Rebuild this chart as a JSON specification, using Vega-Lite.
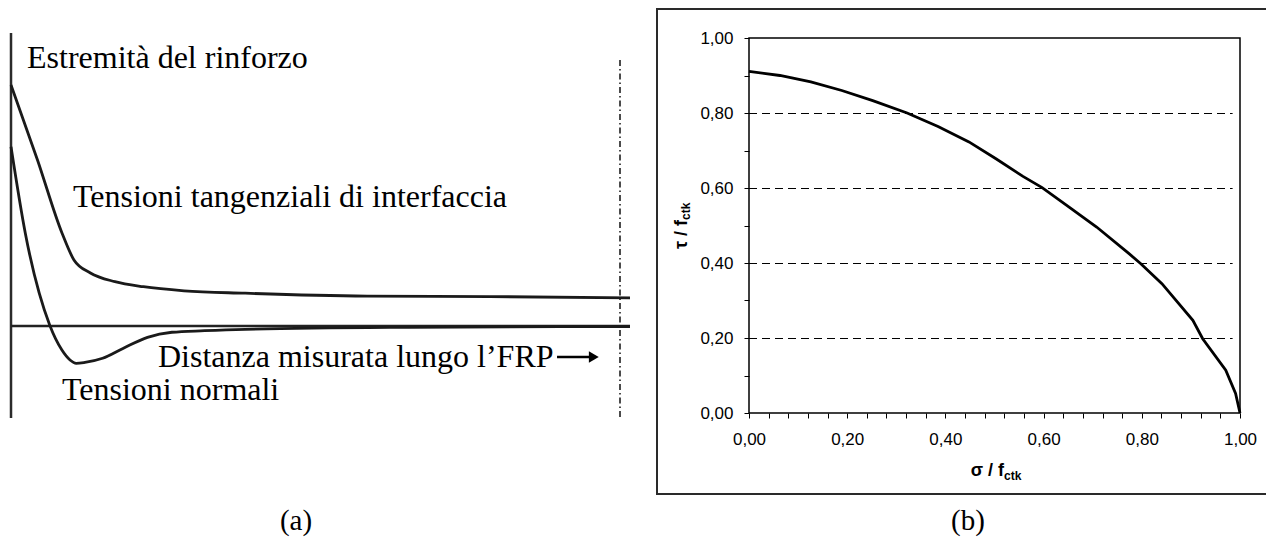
{
  "$schema": "https://vega.github.io/schema/vega-lite/v6.json",
  "width": 1266,
  "height": 538,
  "padding": 0,
  "autosize": {"type": "none"},
  "background": "white",
  "config": {
    "view": {"stroke": null},
    "font": "Liberation Sans",
    "locale": {"number": {"decimal": ",", "thousands": ".", "grouping": [3], "currency": ["", " €"]}}
  },
  "data": {"values": [{}]},
  "datasets": {
    "schematic": [
      {"series": "tangenziali", "d": 0.0, "s": 1.0},
      {"series": "tangenziali", "d": 0.0435, "s": 0.689},
      {"series": "tangenziali", "d": 0.0837, "s": 0.386},
      {"series": "tangenziali", "d": 0.1034, "s": 0.274},
      {"series": "tangenziali", "d": 0.1304, "s": 0.22},
      {"series": "tangenziali", "d": 0.1706, "s": 0.184},
      {"series": "tangenziali", "d": 0.2174, "s": 0.163},
      {"series": "tangenziali", "d": 0.2842, "s": 0.146},
      {"series": "tangenziali", "d": 0.3846, "s": 0.136},
      {"series": "tangenziali", "d": 0.5852, "s": 0.124},
      {"series": "tangenziali", "d": 0.7859, "s": 0.122},
      {"series": "tangenziali", "d": 1.0164, "s": 0.117},
      {"series": "normali", "d": 0.0, "s": 0.744},
      {"series": "normali", "d": 0.0235, "s": 0.385},
      {"series": "normali", "d": 0.0635, "s": 0.004},
      {"series": "normali", "d": 0.0836, "s": -0.1},
      {"series": "normali", "d": 0.0969, "s": -0.141},
      {"series": "normali", "d": 0.1071, "s": -0.155},
      {"series": "normali", "d": 0.1215, "s": -0.151},
      {"series": "normali", "d": 0.1504, "s": -0.134},
      {"series": "normali", "d": 0.1839, "s": -0.093},
      {"series": "normali", "d": 0.2241, "s": -0.047},
      {"series": "normali", "d": 0.2642, "s": -0.026},
      {"series": "normali", "d": 0.3177, "s": -0.0195},
      {"series": "normali", "d": 0.3846, "s": -0.0137},
      {"series": "normali", "d": 0.6522, "s": -0.0054},
      {"series": "normali", "d": 1.0164, "s": -0.002}
    ],
    "dominio": [
      {"sigma": 0.0, "tau": 0.911},
      {"sigma": 0.063, "tau": 0.9},
      {"sigma": 0.126, "tau": 0.883},
      {"sigma": 0.189, "tau": 0.86},
      {"sigma": 0.252, "tau": 0.833},
      {"sigma": 0.322, "tau": 0.8},
      {"sigma": 0.385, "tau": 0.764},
      {"sigma": 0.448, "tau": 0.723},
      {"sigma": 0.503, "tau": 0.678},
      {"sigma": 0.558, "tau": 0.631},
      {"sigma": 0.597, "tau": 0.601},
      {"sigma": 0.652, "tau": 0.549},
      {"sigma": 0.708, "tau": 0.496},
      {"sigma": 0.774, "tau": 0.425},
      {"sigma": 0.798, "tau": 0.398},
      {"sigma": 0.841, "tau": 0.345},
      {"sigma": 0.904, "tau": 0.247},
      {"sigma": 0.924, "tau": 0.198},
      {"sigma": 0.971, "tau": 0.114},
      {"sigma": 0.991, "tau": 0.052},
      {"sigma": 1.0, "tau": 0.0}
    ],
    "griglia": [{"g": 0.2}, {"g": 0.4}, {"g": 0.6}, {"g": 0.8}]
  },
  "resolve": {"scale": {"x": "independent", "y": "independent"}, "axis": {"x": "independent", "y": "independent"}},
  "layer": [
    {
      "layer": [
        {
          "mark": {"type": "rule", "color": "#2b2b2b", "strokeWidth": 2.5},
          "encoding": {
            "x": {"datum": 0, "type": "quantitative", "scale": {"domain": [0, 1], "range": [11, 620], "nice": false, "zero": false}, "axis": null},
            "y": {"datum": 1.216, "type": "quantitative", "scale": {"domain": [0, 1], "range": [326, 85], "nice": false, "zero": false}, "axis": null},
            "y2": {"datum": -0.382}
          }
        },
        {
          "mark": {"type": "rule", "color": "#222222", "strokeWidth": 2.5},
          "encoding": {
            "y": {"datum": 0, "type": "quantitative", "axis": null},
            "x": {"datum": 0, "type": "quantitative", "axis": null},
            "x2": {"datum": 1.0164}
          }
        },
        {
          "mark": {"type": "rule", "color": "#111111", "strokeWidth": 1.5, "strokeDash": [6, 3, 1.5, 3]},
          "encoding": {
            "x": {"datum": 1, "type": "quantitative", "axis": null},
            "y": {"datum": 1.104, "type": "quantitative", "axis": null},
            "y2": {"datum": -0.382}
          }
        },
        {
          "data": {"name": "schematic"},
          "mark": {"type": "line", "color": "#1a1a1a", "strokeWidth": 2.8, "interpolate": "monotone"},
          "encoding": {
            "x": {"field": "d", "type": "quantitative", "axis": null},
            "y": {"field": "s", "type": "quantitative", "axis": null},
            "detail": {"field": "series"}
          }
        },
        {
          "mark": {"type": "text", "font": "Liberation Serif", "fontSize": 32, "align": "left", "baseline": "alphabetic", "color": "#000000"},
          "encoding": {
            "x": {"datum": 0.0263, "type": "quantitative", "axis": null},
            "y": {"datum": 1.0705, "type": "quantitative", "axis": null},
            "text": {"value": "Estremità del rinforzo"}
          }
        },
        {
          "mark": {"type": "text", "font": "Liberation Serif", "fontSize": 32, "align": "left", "baseline": "alphabetic", "color": "#000000"},
          "encoding": {
            "x": {"datum": 0.1018, "type": "quantitative", "axis": null},
            "y": {"datum": 0.4938, "type": "quantitative", "axis": null},
            "text": {"value": "Tensioni tangenziali di interfaccia"}
          }
        },
        {
          "mark": {"type": "text", "font": "Liberation Serif", "fontSize": 32, "align": "left", "baseline": "alphabetic", "color": "#000000"},
          "encoding": {
            "x": {"datum": 0.2414, "type": "quantitative", "axis": null},
            "y": {"datum": -0.1701, "type": "quantitative", "axis": null},
            "text": {"value": "Distanza misurata lungo l’FRP"}
          }
        },
        {
          "mark": {"type": "rule", "color": "#000000", "strokeWidth": 2.4},
          "encoding": {
            "x": {"datum": 0.8966, "type": "quantitative", "axis": null},
            "x2": {"datum": 0.952},
            "y": {"datum": -0.1286, "type": "quantitative", "axis": null}
          }
        },
        {
          "mark": {"type": "point", "shape": "triangle-right", "filled": true, "color": "#000000", "size": 130, "opacity": 1},
          "encoding": {
            "x": {"datum": 0.957, "type": "quantitative", "axis": null},
            "y": {"datum": -0.1286, "type": "quantitative", "axis": null}
          }
        },
        {
          "mark": {"type": "text", "font": "Liberation Serif", "fontSize": 32, "align": "left", "baseline": "alphabetic", "color": "#000000"},
          "encoding": {
            "x": {"datum": 0.0837, "type": "quantitative", "axis": null},
            "y": {"datum": -0.3071, "type": "quantitative", "axis": null},
            "text": {"value": "Tensioni normali"}
          }
        },
        {
          "mark": {"type": "text", "font": "Liberation Serif", "fontSize": 29, "align": "center", "baseline": "alphabetic", "color": "#000000"},
          "encoding": {
            "x": {"datum": 0.468, "type": "quantitative", "axis": null},
            "y": {"datum": -0.8465, "type": "quantitative", "axis": null},
            "text": {"value": "(a)"}
          }
        }
      ]
    },
    {
      "layer": [
        {
          "mark": {"type": "rect", "filled": false, "stroke": "#2a2a2a", "strokeWidth": 2},
          "encoding": {
            "x": {"datum": -0.18737, "type": "quantitative", "scale": {"domain": [0, 1], "range": [749, 1240], "nice": false, "zero": false}, "axis": null},
            "x2": {"datum": 1.0611},
            "y": {"datum": 1.07733, "type": "quantitative", "scale": {"domain": [0, 1], "range": [413, 38], "nice": false, "zero": false}, "axis": null},
            "y2": {"datum": -0.216}
          }
        },
        {
          "data": {"name": "griglia"},
          "mark": {"type": "rule", "color": "#000000", "strokeWidth": 1, "strokeDash": [8, 5], "yOffset": 0.5},
          "encoding": {
            "y": {"field": "g", "type": "quantitative", "axis": null},
            "x": {"datum": 0, "type": "quantitative", "axis": null},
            "x2": {"datum": 0.985}
          }
        },
        {
          "mark": {"type": "rect", "filled": false, "stroke": "#000000", "strokeWidth": 1.5},
          "encoding": {
            "x": {"datum": 0, "type": "quantitative", "axis": null},
            "x2": {"datum": 1},
            "y": {"datum": 0, "type": "quantitative", "axis": null},
            "y2": {"datum": 1}
          }
        },
        {
          "mark": {"type": "text", "font": "Liberation Sans", "fontWeight": "bold", "fontSize": 18, "align": "right", "baseline": "alphabetic", "color": "#000000"},
          "encoding": {
            "x": {"datum": 0.5193, "type": "quantitative", "axis": null},
            "y": {"datum": -0.168, "type": "quantitative", "axis": null},
            "text": {"value": "σ / f"}
          }
        },
        {
          "mark": {"type": "text", "font": "Liberation Sans", "fontWeight": "bold", "fontSize": 12, "align": "left", "baseline": "alphabetic", "color": "#000000"},
          "encoding": {
            "x": {"datum": 0.5193, "type": "quantitative", "axis": null},
            "y": {"datum": -0.1787, "type": "quantitative", "axis": null},
            "text": {"value": "ctk"}
          }
        },
        {
          "mark": {"type": "text", "font": "Liberation Sans", "fontWeight": "bold", "fontSize": 18, "angle": 270, "align": "right", "baseline": "alphabetic", "color": "#000000"},
          "encoding": {
            "x": {"datum": -0.1263, "type": "quantitative", "axis": null},
            "y": {"datum": 0.5147, "type": "quantitative", "axis": null},
            "text": {"value": "τ / f"}
          }
        },
        {
          "mark": {"type": "text", "font": "Liberation Sans", "fontWeight": "bold", "fontSize": 12, "angle": 270, "align": "left", "baseline": "alphabetic", "color": "#000000"},
          "encoding": {
            "x": {"datum": -0.1202, "type": "quantitative", "axis": null},
            "y": {"datum": 0.5147, "type": "quantitative", "axis": null},
            "text": {"value": "ctk"}
          }
        },
        {
          "mark": {"type": "text", "font": "Liberation Serif", "fontSize": 29, "align": "center", "baseline": "alphabetic", "color": "#000000"},
          "encoding": {
            "x": {"datum": 0.446, "type": "quantitative", "axis": null},
            "y": {"datum": -0.312, "type": "quantitative", "axis": null},
            "text": {"value": "(b)"}
          }
        }
      ]
    },
    {
      "data": {"name": "dominio"},
      "mark": {"type": "line", "color": "#000000", "strokeWidth": 2.8},
      "encoding": {
        "x": {
          "field": "sigma", "type": "quantitative",
          "scale": {"domain": [0, 1], "range": [749, 1240], "nice": false, "zero": false},
          "axis": {
            "orient": "bottom", "offset": -125, "domain": false, "grid": false, "zindex": 3,
            "values": [0, 0.04, 0.08, 0.12, 0.16, 0.2, 0.24, 0.28, 0.32, 0.36, 0.4, 0.44, 0.48, 0.52, 0.56, 0.6, 0.64, 0.68, 0.72, 0.76, 0.8, 0.84, 0.88, 0.92, 0.96, 1.0],
            "format": ".2f",
            "labelExpr": "abs(datum.value*5 - round(datum.value*5)) < 0.01 ? datum.label : ''",
            "tickSize": 5, "tickColor": "#000000", "tickWidth": 1,
            "labelFont": "Liberation Sans", "labelFontSize": 17, "labelColor": "#000000",
            "labelPadding": 13, "labelOverlap": false, "labelFlush": false, "title": null
          }
        },
        "y": {
          "field": "tau", "type": "quantitative",
          "scale": {"domain": [0, 1], "range": [413, 38], "nice": false, "zero": false},
          "axis": {
            "orient": "left", "offset": -749, "domain": false, "grid": false, "zindex": 3,
            "values": [0, 0.1, 0.2, 0.3, 0.4, 0.5, 0.6, 0.7, 0.8, 0.9, 1.0],
            "format": ".2f",
            "labelExpr": "abs(datum.value*5 - round(datum.value*5)) < 0.01 ? datum.label : ''",
            "tickSize": 5, "tickColor": "#000000", "tickWidth": 1,
            "labelFont": "Liberation Sans", "labelFontSize": 17, "labelColor": "#000000",
            "labelPadding": 11, "labelOverlap": false, "labelFlush": false, "title": null
          }
        }
      }
    }
  ]
}
